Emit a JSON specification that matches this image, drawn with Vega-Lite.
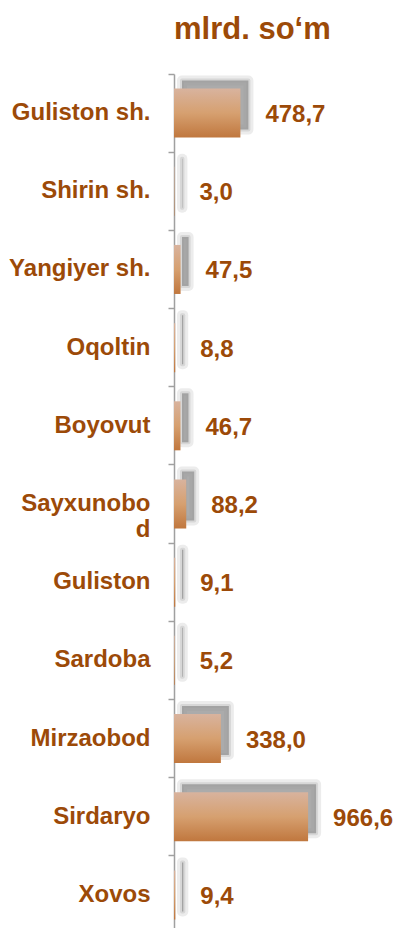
{
  "$schema": "https://vega.github.io/schema/vega-lite/v6.json",
  "width": 230,
  "height": 854,
  "autosize": {"type": "none"},
  "padding": {"left": 174, "top": 74, "right": 0, "bottom": 0},
  "background": "white",
  "title": {
    "text": "mlrd. so‘m",
    "anchor": "start",
    "frame": "group",
    "baseline": "alphabetic",
    "offset": 3,
    "fontSize": 31,
    "font": "Liberation Sans",
    "fontWeight": "bold",
    "color": "#9C4A08"
  },
  "config": {
    "view": {"stroke": null},
    "locale": {"number": {"decimal": ",", "thousands": " ", "grouping": [3], "currency": ["", ""]}}
  },
  "data": {
    "values": [
      {"raion": "Guliston sh.", "v": 478.7},
      {"raion": "Shirin sh.", "v": 3.0},
      {"raion": "Yangiyer sh.", "v": 47.5},
      {"raion": "Oqoltin", "v": 8.8},
      {"raion": "Boyovut", "v": 46.7},
      {"raion": "Sayxunobod", "v": 88.2},
      {"raion": "Guliston", "v": 9.1},
      {"raion": "Sardoba", "v": 5.2},
      {"raion": "Mirzaobod", "v": 338.0},
      {"raion": "Sirdaryo", "v": 966.6},
      {"raion": "Xovos", "v": 9.4}
    ]
  },
  "encoding": {
    "y": {
      "field": "raion",
      "type": "nominal",
      "sort": null,
      "scale": {"paddingInner": 0, "paddingOuter": 0, "range": [0, 860]},
      "axis": {
        "title": null,
        "grid": false,
        "domainColor": "#A0A0A0",
        "domainWidth": 1.5,
        "tickColor": "#A0A0A0",
        "tickWidth": 1.5,
        "tickSize": 6,
        "bandPosition": 0,
        "labelFont": "Liberation Sans",
        "labelFontSize": 24,
        "labelFontWeight": "bold",
        "labelColor": "#9C4A08",
        "labelPadding": 18,
        "labelAlign": "right",
        "labelBaseline": "middle",
        "labelLimit": 300,
        "labelOverlap": false,
        "labelLineHeight": 26,
        "labelExpr": "datum.label == 'Sayxunobod' ? ['Sayxunobo', 'd'] : datum.label"
      }
    },
    "x": {
      "field": "v",
      "type": "quantitative",
      "scale": {"domain": [0, 1658], "nice": false},
      "axis": null
    }
  },
  "layer": [
    {
      "mark": {"type": "bar", "height": {"band": 0.627}, "xOffset": 8, "yOffset": -8, "fill": "#969696", "fillOpacity": 0, "stroke": "#969696", "strokeOpacity": 0.18, "strokeWidth": 10, "strokeJoin": "round"}
    },
    {
      "mark": {"type": "bar", "height": {"band": 0.627}, "xOffset": 8, "yOffset": -8, "fill": "#969696", "fillOpacity": 0.8, "stroke": "#969696", "strokeOpacity": 0.25, "strokeWidth": 4, "strokeJoin": "round"}
    },
    {
      "mark": {
        "type": "bar",
        "height": {"band": 0.627},
        "stroke": null,
        "fill": {
          "gradient": "linear",
          "x1": 0, "y1": 0, "x2": 0, "y2": 1,
          "stops": [
            {"offset": 0, "color": "#D8B39E"},
            {"offset": 0.5, "color": "#D6A070"},
            {"offset": 1, "color": "#C0773E"}
          ]
        }
      }
    },
    {
      "mark": {"type": "text", "align": "left", "baseline": "middle", "dx": 25, "dy": 2, "fontSize": 24, "fontWeight": "bold", "font": "Liberation Sans", "color": "#9C4A08"},
      "encoding": {"text": {"field": "v", "type": "quantitative", "format": ".1f"}}
    }
  ]
}
